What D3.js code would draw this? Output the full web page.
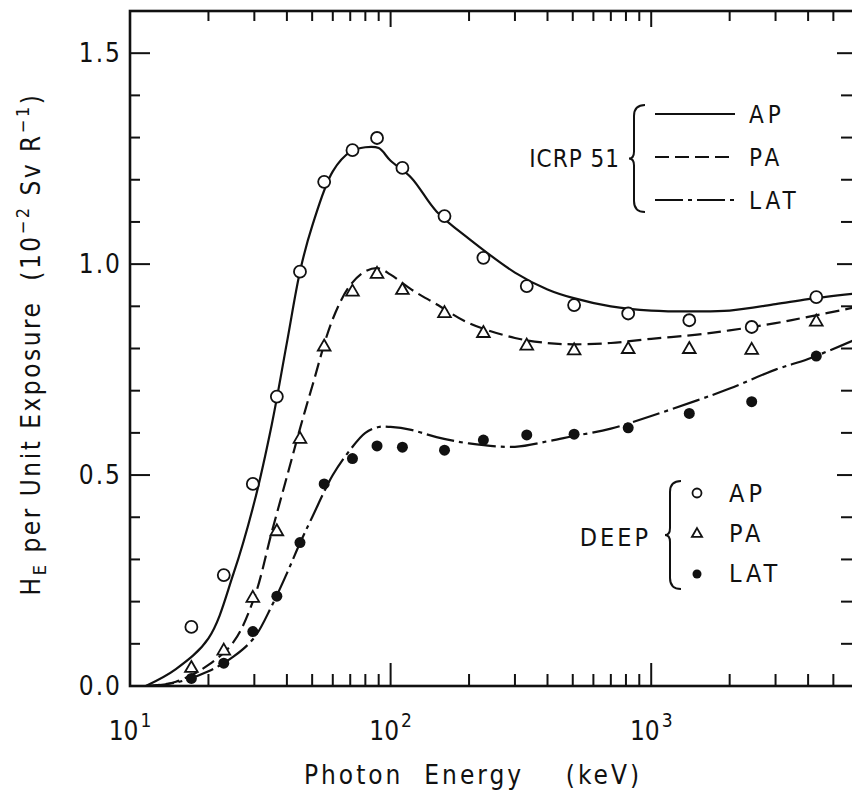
<!DOCTYPE html>
<html>
<head>
<meta charset="utf-8">
<script src="https://cdn.jsdelivr.net/npm/d3@7"></script>
<style>
  body { margin: 0; background: #fff; }
  text { font-family: "Liberation Sans Narrow", "DejaVu Sans Condensed", "Liberation Sans", sans-serif; fill: #111; }
</style>
</head>
<body>
<script>
// Photon energies (keV) of the DEEP points
var markerEnergy = [17.2, 22.9, 29.6, 36.6, 44.9, 55.6, 71.4, 88.7, 111, 161, 227, 333, 506, 816, 1400, 2430, 4300];
// DEEP results (10^-2 Sv/R)
var deepAP  = [0.140, 0.263, 0.479, 0.686, 0.982, 1.195, 1.270, 1.299, 1.228, 1.114, 1.015, 0.948, 0.903, 0.883, 0.867, 0.851, 0.922];
var deepPA  = [0.042, 0.083, 0.208, 0.366, 0.585, 0.804, 0.934, 0.976, 0.938, 0.883, 0.836, 0.806, 0.795, 0.798, 0.798, 0.796, 0.863];
var deepLAT = [0.018, 0.054, 0.129, 0.213, 0.340, 0.479, 0.539, 0.569, 0.566, 0.559, 0.583, 0.595, 0.597, 0.612, 0.646, 0.674, 0.782];

// ICRP 51 curves
var curveEnergy = [11.5, 15, 20, 25, 30, 35, 40, 45, 50, 60, 70, 80, 90, 100, 120, 150, 200, 300, 400, 500, 700, 1000, 1500, 2000, 3000, 4000, 6000];
var icrpAP  = [0, 0.04, 0.113, 0.268, 0.436, 0.62, 0.814, 0.985, 1.09, 1.22, 1.266, 1.277, 1.275, 1.245, 1.205, 1.125, 1.06, 0.98, 0.94, 0.92, 0.9, 0.89, 0.888, 0.89, 0.905, 0.917, 0.93];
var icrpPA  = [0, 0.01, 0.05, 0.105, 0.21, 0.365, 0.496, 0.612, 0.71, 0.87, 0.95, 0.983, 0.99, 0.975, 0.94, 0.905, 0.86, 0.825, 0.813, 0.81, 0.813, 0.823, 0.833, 0.843, 0.86, 0.875, 0.897];
var icrpLAT = [0, 0.008, 0.035, 0.07, 0.115, 0.19, 0.267, 0.34, 0.4, 0.5, 0.56, 0.6, 0.614, 0.614, 0.607, 0.59, 0.575, 0.567, 0.58, 0.592, 0.61, 0.64, 0.677, 0.705, 0.75, 0.775, 0.82];

var xMajor = [10, 100, 1000];
var yTicks = d3.range(0, 16).map(d => d / 10);
var yLabels = [0, 0.5, 1.0, 1.5];

var svgWidth = 852, svgHeight = 796;
var plotLeft = 130, plotRight = 854, plotTop = 11, plotBottom = 686;

var svg = d3.select("body").append("svg")
  .attr("width", svgWidth)
  .attr("height", svgHeight);

var x = d3.scaleLog().domain([10, 6000]).range([plotLeft, plotRight]);
var y = d3.scaleLinear().domain([0, 1.6]).range([plotBottom, plotTop]);

// frame
svg.append("rect")
  .attr("x", plotLeft).attr("y", y(1.6))
  .attr("width", plotRight - plotLeft).attr("height", plotBottom - y(1.6))
  .attr("fill", "none").attr("stroke", "#111").attr("stroke-width", 2.6);

// x ticks, bottom and top, pointing inward
var xMinor = [];
xMajor.forEach(function (dec) {
  for (var k = 2; k <= 9; k++) if (dec * k <= 6000) xMinor.push(dec * k);
});
var ticks = svg.append("g").attr("stroke", "#111").attr("stroke-width", 2);
xMinor.forEach(function (v) {
  ticks.append("line").attr("x1", x(v)).attr("x2", x(v)).attr("y1", plotBottom).attr("y2", plotBottom - 12);
  ticks.append("line").attr("x1", x(v)).attr("x2", x(v)).attr("y1", y(1.6)).attr("y2", y(1.6) + 10);
});
[100, 1000].forEach(function (v) {
  ticks.append("line").attr("x1", x(v)).attr("x2", x(v)).attr("y1", plotBottom).attr("y2", plotBottom - 23);
  ticks.append("line").attr("x1", x(v)).attr("x2", x(v)).attr("y1", y(1.6)).attr("y2", y(1.6) + 16);
});

// y ticks, left and right
yTicks.slice(1).forEach(function (v) {
  var major = Math.round(v * 10) % 5 === 0;
  ticks.append("line").attr("x1", plotLeft).attr("x2", plotLeft + (major ? 20 : 10)).attr("y1", y(v)).attr("y2", y(v));
  ticks.append("line").attr("x1", plotRight).attr("x2", plotRight - (major ? 17 : 13)).attr("y1", y(v)).attr("y2", y(v));
});

// y tick labels
svg.selectAll(".ylab")
  .data(yLabels)
  .enter()
  .append("text")
  .attr("x", 122)
  .attr("y", d => y(d) + 9)
  .attr("text-anchor", "end")
  .attr("font-size", "26px")
  .attr("letter-spacing", "2px")
  .text(d => d.toFixed(1));

// x tick labels 10^n
xMajor.forEach(function (v, i) {
  var t = svg.append("text")
    .attr("x", x(v))
    .attr("y", 740)
    .attr("text-anchor", "middle")
    .attr("font-size", "26px");
  t.append("tspan").text("10");
  t.append("tspan").attr("dy", -13).attr("font-size", "19px").attr("dx", 2).text(i + 1);
});

// axis titles
svg.append("text")
  .attr("x", 473)
  .attr("y", 784)
  .attr("text-anchor", "middle")
  .attr("font-size", "26px")
  .attr("letter-spacing", "3px")
  .style("white-space", "pre")
  .text("Photon  Energy    (keV)");

var yt = svg.append("text")
  .attr("transform", "translate(40, 344) rotate(-90)")
  .attr("text-anchor", "middle")
  .attr("font-size", "26px")
  .attr("letter-spacing", "2.5px")
  .style("white-space", "pre");
yt.append("tspan").text("H");
yt.append("tspan").attr("dy", 6).attr("font-size", "18px").text("E");
yt.append("tspan").attr("dy", -6).text(" per Unit Exposure  (10");
yt.append("tspan").attr("dy", -11).attr("font-size", "18px").text("−2");
yt.append("tspan").attr("dy", 11).text(" Sv R");
yt.append("tspan").attr("dy", -11).attr("font-size", "18px").text("−1");
yt.append("tspan").attr("dy", 11).text(")");

// ICRP 51 curves
var line = d3.line()
  .x(d => x(d[0]))
  .y(d => y(d[1]))
  .curve(d3.curveCatmullRom.alpha(0.5));

var curves = [
  { vals: icrpAP, dash: null },
  { vals: icrpPA, dash: "14,6" },
  { vals: icrpLAT, dash: "28,5,4,5" }
];
var plot = svg.append("g");
curves.forEach(function (c) {
  plot.append("path")
    .datum(curveEnergy.map((e, i) => [e, c.vals[i]]))
    .attr("d", line)
    .attr("fill", "none")
    .attr("stroke", "#111")
    .attr("stroke-width", 2.2)
    .attr("stroke-dasharray", c.dash);
});

// DEEP markers
var tri = d3.symbol().type(d3.symbolTriangle).size(70);
plot.selectAll(".ap")
  .data(markerEnergy)
  .enter()
  .append("circle")
  .attr("cx", d => x(d))
  .attr("cy", (d, i) => y(deepAP[i]))
  .attr("r", 6)
  .attr("fill", "#fff")
  .attr("stroke", "#111")
  .attr("stroke-width", 1.8);

plot.selectAll(".pa")
  .data(markerEnergy)
  .enter()
  .append("path")
  .attr("d", tri)
  .attr("transform", (d, i) => `translate(${x(d)}, ${y(deepPA[i])})`)
  .attr("fill", "#fff")
  .attr("stroke", "#111")
  .attr("stroke-width", 1.8);

plot.selectAll(".lat")
  .data(markerEnergy)
  .enter()
  .append("circle")
  .attr("cx", d => x(d))
  .attr("cy", (d, i) => y(deepLAT[i]))
  .attr("r", 5.5)
  .attr("fill", "#111");

// braces
function brace(bx, top, bot) {
  var mid = (top + bot) / 2;
  return `M${bx + 11},${top} Q${bx},${top} ${bx},${top + 11} L${bx},${mid - 7} Q${bx},${mid} ${bx - 5},${mid} ` +
    `Q${bx},${mid} ${bx},${mid + 7} L${bx},${bot - 11} Q${bx},${bot} ${bx + 11},${bot}`;
}

// ICRP 51 legend
var leg1 = svg.append("g");
leg1.append("path").attr("d", brace(634, 105, 212))
  .attr("fill", "none").attr("stroke", "#111").attr("stroke-width", 2);
leg1.append("text").attr("x", 620).attr("y", 167).attr("text-anchor", "end")
  .attr("font-size", "24px").attr("letter-spacing", "1px").text("ICRP 51");
var legNames = ["AP", "PA", "LAT"];
curves.forEach(function (c, i) {
  var ly = 114 + i * 43;
  leg1.append("line").attr("x1", 655).attr("x2", 735).attr("y1", ly).attr("y2", ly)
    .attr("stroke", "#111").attr("stroke-width", 2.2).attr("stroke-dasharray", c.dash);
  leg1.append("text").attr("x", 749).attr("y", ly + 9)
    .attr("font-size", "24px").attr("letter-spacing", "4px").text(legNames[i]);
});

// DEEP legend
var leg2 = svg.append("g");
leg2.append("path").attr("d", brace(670, 481, 589))
  .attr("fill", "none").attr("stroke", "#111").attr("stroke-width", 2);
leg2.append("text").attr("x", 651).attr("y", 546).attr("text-anchor", "end")
  .attr("font-size", "25px").attr("letter-spacing", "3px").text("DEEP");
leg2.append("circle").attr("cx", 697).attr("cy", 493).attr("r", 4.5)
  .attr("fill", "#fff").attr("stroke", "#111").attr("stroke-width", 1.8);
leg2.append("path").attr("d", d3.symbol().type(d3.symbolTriangle).size(45))
  .attr("transform", "translate(697, 534)")
  .attr("fill", "#fff").attr("stroke", "#111").attr("stroke-width", 1.8);
leg2.append("circle").attr("cx", 697).attr("cy", 574).attr("r", 4.5).attr("fill", "#111");
legNames.forEach(function (n, i) {
  leg2.append("text").attr("x", 729).attr("y", 502 + i * 40)
    .attr("font-size", "25px").attr("letter-spacing", "4px").text(n);
});
</script>
</body>
</html>
